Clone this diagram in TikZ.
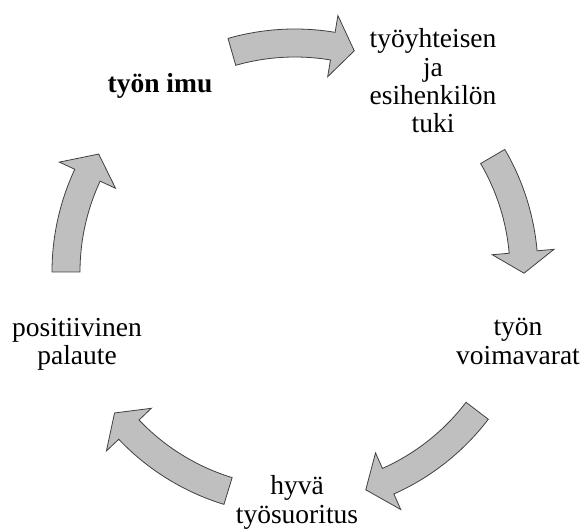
\documentclass[tikz,border=0pt]{standalone}
\usepackage{fontspec}
\setmainfont{Liberation Serif}
\usepackage{tikz}
\definecolor{arrowgray}{RGB}{191,191,191}
\definecolor{arrowedge}{RGB}{64,64,64}

\begin{document}
\begin{tikzpicture}[
  x=1pt, y=1pt,
  phase/.style={align=center, inner sep=0pt, font=\fontsize{27.5}{28.3}\selectfont},
  blockarrow/.style={fill=arrowgray, draw=arrowedge, line width=0.8pt, line join=miter}
]
  \useasboundingbox (0,0) rectangle (582,530);

  \node[phase, font=\fontsize{27.5}{28.3}\selectfont\bfseries] (imu) at (160,444.5) {työn imu};
  \node[phase] (tuki) at (433,449) {työyhteisen\\ja\\esihenkilön\\tuki};
  \node[phase] (voima) at (518,188.5) {työn\\voimavarat};
  \node[phase] (suoritus) at (297,27.5) {hyvä\\työsuoritus};
  \node[phase] (palaute) at (77,185.5) {positiivinen\\palaute};

  % curved arrows round the cycle: tail angle / head base / tip
  \begin{scope}[shift={(295,258)}]
    \foreach \a/\b/\c in {106/80.5/75, 30.3/5/-0.3, -37.3/-66/-72, -107/-136.5/-142, 180/155/149} {
      \draw[blockarrow] (\a:243) arc[start angle=\a, end angle=\b, radius=243]
        -- (\b:260) -- (\c:229) -- (\b:198) -- (\b:215)
        arc[start angle=\b, end angle=\a, radius=215] -- cycle;
    }
  \end{scope}
\end{tikzpicture}
\end{document}
